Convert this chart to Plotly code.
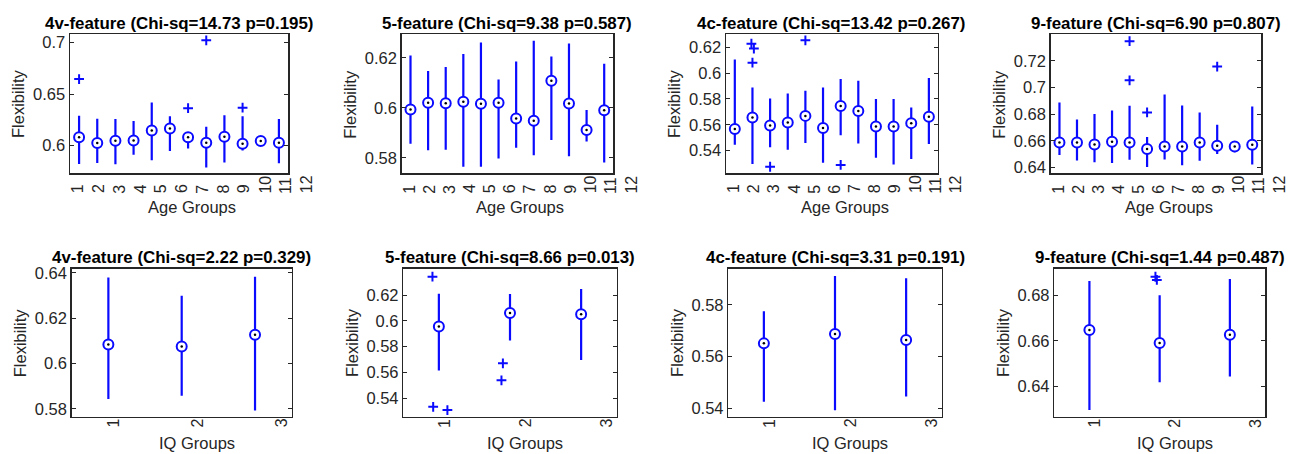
import plotly.graph_objects as go

# ---------------- data ----------------
AGE_GROUPS = list(range(1, 13))
IQ_GROUPS = [1, 2, 3]
AGE_LABELS = [str(g) for g in AGE_GROUPS]
IQ_LABELS = [str(g) for g in IQ_GROUPS]

# 4v-feature, age groups
age4v_med = [0.6080, 0.6023, 0.6045, 0.6048, 0.6145, 0.6164, 0.6080, 0.6026, 0.6084, 0.6016, 0.6042, 0.6026]
age4v_hi = [0.6290, 0.6260, 0.6257, 0.6238, 0.6418, 0.6283, 0.6106, 0.6183, 0.6293, 0.6283, 0.6058, 0.6257]
age4v_lo = [0.5820, 0.5830, 0.5817, 0.5910, 0.5855, 0.5945, 0.5970, 0.5785, 0.5833, 0.5950, 0.6030, 0.5826]
age4v_out_x = [1, 7, 8, 10]
age4v_out_y = [0.6646, 0.6363, 0.7023, 0.6367]

# 5-feature, age groups
age5_med = [0.5993, 0.6020, 0.6018, 0.6024, 0.6016, 0.6020, 0.5957, 0.5948, 0.6109, 0.6017, 0.5911, 0.5990]
age5_hi = [0.6210, 0.6148, 0.6164, 0.6216, 0.6262, 0.6114, 0.6186, 0.6269, 0.6206, 0.6258, 0.5991, 0.6177]
age5_lo = [0.5856, 0.5830, 0.5832, 0.5764, 0.5764, 0.5797, 0.5840, 0.5810, 0.5871, 0.5806, 0.5865, 0.5781]
age5_out_x = []
age5_out_y = []

# 4c-feature, age groups
age4c_med = [0.5567, 0.5656, 0.5595, 0.5618, 0.5669, 0.5575, 0.5745, 0.5707, 0.5587, 0.5587, 0.5613, 0.5663]
age4c_hi = [0.6105, 0.5889, 0.5803, 0.5841, 0.5864, 0.5889, 0.5953, 0.5940, 0.5800, 0.5800, 0.5733, 0.5962]
age4c_lo = [0.5445, 0.5297, 0.5427, 0.5407, 0.5460, 0.5307, 0.5520, 0.5455, 0.5345, 0.5294, 0.5335, 0.5452]
age4c_out_x = [1.94, 2.08, 2.00, 3.00, 5.00, 7.00]
age4c_out_y = [0.6227, 0.6189, 0.6080, 0.5276, 0.6253, 0.5290]

# 9-feature, age groups
age9_med = [0.6588, 0.6588, 0.6573, 0.6593, 0.6588, 0.6539, 0.6558, 0.6558, 0.6588, 0.6563, 0.6558, 0.6571]
age9_hi = [0.6887, 0.6760, 0.6801, 0.6828, 0.6863, 0.6629, 0.6948, 0.6865, 0.6813, 0.6720, 0.6570, 0.6858]
age9_lo = [0.6494, 0.6453, 0.6440, 0.6433, 0.6458, 0.6404, 0.6460, 0.6416, 0.6450, 0.6502, 0.6515, 0.6423]
age9_out_x = [5, 5, 6, 10]
age9_out_y = [0.7348, 0.7054, 0.6813, 0.7157]

# IQ groups
iq4v_med = [0.6084, 0.6075, 0.6127]
iq4v_hi = [0.6380, 0.6299, 0.6383]
iq4v_lo = [0.5844, 0.5858, 0.5793]
iq4v_out_x = []
iq4v_out_y = []

iq5_med = [0.5957, 0.6061, 0.6051]
iq5_hi = [0.6210, 0.6208, 0.6246]
iq5_lo = [0.5615, 0.5848, 0.5696]
iq5_out_x = [0.91, 0.92, 1.12, 1.90, 1.88]
iq5_out_y = [0.6342, 0.5334, 0.5309, 0.5671, 0.5539]

iq4c_med = [0.5651, 0.5687, 0.5664]
iq4c_hi = [0.5776, 0.5912, 0.5903]
iq4c_lo = [0.5425, 0.5392, 0.5445]
iq4c_out_x = []
iq4c_out_y = []

iq9_med = [0.6647, 0.6590, 0.6627]
iq9_hi = [0.6863, 0.6800, 0.6872]
iq9_lo = [0.6295, 0.6417, 0.6443]
iq9_out_x = [1.94, 1.96]
iq9_out_y = [0.6882, 0.6868]

titles = [
    "4v-feature (Chi-sq=14.73 p=0.195)",
    "5-feature (Chi-sq=9.38 p=0.587)",
    "4c-feature (Chi-sq=13.42 p=0.267)",
    "9-feature (Chi-sq=6.90 p=0.807)",
    "4v-feature (Chi-sq=2.22 p=0.329)",
    "5-feature (Chi-sq=8.66 p=0.013)",
    "4c-feature (Chi-sq=3.31 p=0.191)",
    "9-feature (Chi-sq=1.44 p=0.487)",
]

y_ticks = [
    [0.6, 0.65, 0.7],
    [0.58, 0.6, 0.62],
    [0.54, 0.56, 0.58, 0.6, 0.62],
    [0.64, 0.66, 0.68, 0.7, 0.72],
    [0.58, 0.6, 0.62, 0.64],
    [0.54, 0.56, 0.58, 0.6, 0.62],
    [0.54, 0.56, 0.58],
    [0.64, 0.66, 0.68],
]
y_ranges = [
    [0.5727, 0.7080],
    [0.5737, 0.6294],
    [0.5224, 0.6298],
    [0.6355, 0.7398],
    [0.5766, 0.6419],
    [0.5258, 0.6405],
    [0.5367, 0.5941],
    [0.6266, 0.6918],
]

panels = [
    (AGE_GROUPS, AGE_LABELS, age4v_med, age4v_lo, age4v_hi, age4v_out_x, age4v_out_y, "Age Groups"),
    (AGE_GROUPS, AGE_LABELS, age5_med, age5_lo, age5_hi, age5_out_x, age5_out_y, "Age Groups"),
    (AGE_GROUPS, AGE_LABELS, age4c_med, age4c_lo, age4c_hi, age4c_out_x, age4c_out_y, "Age Groups"),
    (AGE_GROUPS, AGE_LABELS, age9_med, age9_lo, age9_hi, age9_out_x, age9_out_y, "Age Groups"),
    (IQ_GROUPS, IQ_LABELS, iq4v_med, iq4v_lo, iq4v_hi, iq4v_out_x, iq4v_out_y, "IQ Groups"),
    (IQ_GROUPS, IQ_LABELS, iq5_med, iq5_lo, iq5_hi, iq5_out_x, iq5_out_y, "IQ Groups"),
    (IQ_GROUPS, IQ_LABELS, iq4c_med, iq4c_lo, iq4c_hi, iq4c_out_x, iq4c_out_y, "IQ Groups"),
    (IQ_GROUPS, IQ_LABELS, iq9_med, iq9_lo, iq9_hi, iq9_out_x, iq9_out_y, "IQ Groups"),
]

# ---------------- layout geometry (page pixels) ----------------
W, H = 1289, 454
x_px = [(70, 288), (401.7, 613), (726, 937.7), (1050.7, 1261),
        (71.7, 291.7), (403.3, 616.7), (728.3, 941.7), (1054.3, 1265)]
y_px_top = (30, 171.5)
y_px_bot = (268.3, 419)

BLUE = "#0a0aff"
AX = "#262626"
FONT = "Liberation Sans, Arial, sans-serif"

fig = go.Figure()
annotations = []
layout = dict(
    width=W, height=H,
    margin=dict(l=0, r=0, t=0, b=0),
    paper_bgcolor="white", plot_bgcolor="white",
    showlegend=False,
    font=dict(family=FONT, color=AX),
)

for i, (groups, labels, med, lo, hi, ox, oy, xtitle) in enumerate(panels):
    k = i + 1
    xa = "x" if k == 1 else f"x{k}"
    ya = "y" if k == 1 else f"y{k}"
    xkey = "xaxis" if k == 1 else f"xaxis{k}"
    ykey = "yaxis" if k == 1 else f"yaxis{k}"
    top_row = i < 4
    ypx = y_px_top if top_row else y_px_bot
    x0, x1 = x_px[i]
    n = len(groups)

    layout[xkey] = dict(
        domain=[x0 / W, x1 / W], range=[0.5, n + 0.5],
        showline=True, linecolor=AX, linewidth=1.5, mirror=True,
        showticklabels=False, ticks="", showgrid=False, zeroline=False,
        anchor=ya, fixedrange=True,
    )
    layout[ykey] = dict(
        domain=[1 - ypx[1] / H, 1 - ypx[0] / H], range=y_ranges[i],
        showline=True, linecolor=AX, linewidth=1.5, mirror="ticks",
        ticks="inside", ticklen=4, tickwidth=1, tickcolor=AX,
        tickvals=y_ticks[i], ticktext=[f"{v:g}" for v in y_ticks[i]],
        tickfont=dict(size=16.5, color=AX, family=FONT),
        showgrid=False, zeroline=False, anchor=xa, fixedrange=True,
    )

    # whiskers
    wx, wy = [], []
    for g, a, b in zip(groups, lo, hi):
        wx += [g, g, None]
        wy += [a, b, None]
    fig.add_trace(go.Scatter(x=wx, y=wy, mode="lines", xaxis=xa, yaxis=ya,
                             line=dict(color=BLUE, width=2.2), hoverinfo="skip"))
    # median circles
    fig.add_trace(go.Scatter(x=groups, y=med, mode="markers", xaxis=xa, yaxis=ya,
                             marker=dict(symbol="circle", size=10, color="white",
                                         line=dict(color=BLUE, width=2))))
    fig.add_trace(go.Scatter(x=groups, y=med, mode="markers", xaxis=xa, yaxis=ya,
                             marker=dict(symbol="circle", size=2.5, color="black")))
    # outliers
    if ox:
        fig.add_trace(go.Scatter(x=ox, y=oy, mode="markers", xaxis=xa, yaxis=ya,
                                 marker=dict(symbol="cross-thin", size=7,
                                             line=dict(color=BLUE, width=2))))

    # title
    annotations.append(dict(
        text=f"<b>{titles[i]}</b>", xref=f"{xa} domain", yref=f"{ya} domain",
        x=0.5, y=1, xanchor="center", yanchor="middle", yshift=11,
        showarrow=False, font=dict(size=16.9, color="black", family=FONT),
    ))
    # y title
    annotations.append(dict(
        text="Flexibility", xref=f"{xa} domain", yref=f"{ya} domain",
        x=0, y=0.5, xanchor="center", yanchor="middle", xshift=-52, textangle=-90,
        showarrow=False, font=dict(size=16.5, color=AX, family=FONT),
    ))
    # rotated tick labels (stretched relative to the box positions)
    stretch = 1.143
    offset = -0.045 if top_row else 0.07
    label_shift = -22 if top_row else -13
    label_pos = [groups[0] + stretch * (g - groups[0]) + offset for g in groups]
    for lab, p in zip(labels, label_pos):
        annotations.append(dict(
            text=lab, xref=f"{xa} domain", yref=f"{ya} domain", x=(p - 0.5) / n, y=0,
            xanchor="center", yanchor="bottom", yshift=label_shift, textangle=-90,
            showarrow=False, font=dict(size=16, color=AX, family=FONT),
        ))
    # x title centred on the label span
    annotations.append(dict(
        text=xtitle, xref=f"{xa} domain", yref=f"{ya} domain",
        x=((label_pos[0] + label_pos[-1]) / 2 - 0.5) / n, y=0,
        xanchor="center", yanchor="middle",
        yshift=-34 if top_row else -26,
        showarrow=False, font=dict(size=16.5, color=AX, family=FONT),
    ))

layout["annotations"] = annotations
fig.update_layout(**layout)
fig.write_html(
    "out.html",
    config={"displayModeBar": False, "staticPlot": True},
    post_script="document.body.style.margin='0px';document.body.style.overflow='hidden';",
)
